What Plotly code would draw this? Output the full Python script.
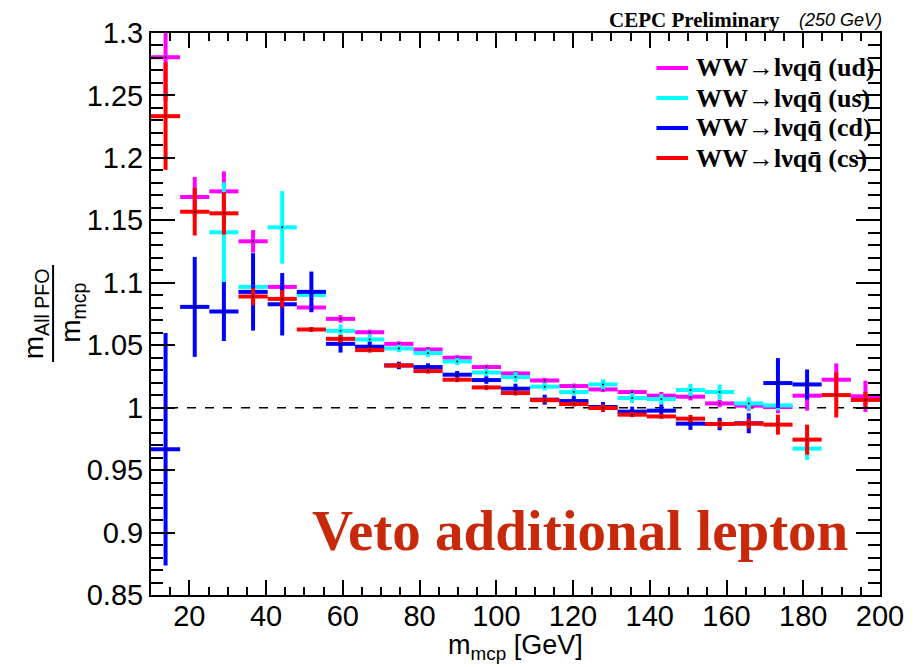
import plotly.graph_objects as go

# Bin layout: 25 bins of equal width between 10 and 200 GeV
bin_centers = [13.8, 21.4, 29.0, 36.6, 44.2, 51.8, 59.4, 67.0, 74.6, 82.2,
               89.8, 97.4, 105.0, 112.6, 120.2, 127.8, 135.4, 143.0, 150.6, 158.2,
               165.8, 173.4, 181.0, 188.6, 196.2]
bin_half_width = 3.8

# WW -> l nu q qbar (ud)
ud_ratio = [1.2806, 1.1687, 1.1732, 1.1332, 1.0967, 1.0802, 1.0711, 1.0604, 1.0511, 1.0466,
            1.0400, 1.0325, 1.0274, 1.0218, 1.0173, 1.0146, 1.0125, 1.0096, 1.0088, 1.0034,
            1.0016, 1.0005, 1.0096, 1.0224, 1.0091]
ud_err = [0.035, 0.016, 0.016, 0.009, 0.003, 0.003, 0.003, 0.002, 0.002, 0.002,
          0.002, 0.002, 0.002, 0.002, 0.002, 0.002, 0.002, 0.003, 0.003, 0.003,
          0.004, 0.005, 0.012, 0.013, 0.0125]

# WW -> l nu q qbar (us)
us_ratio = [None, None, 1.1404, 1.0967, 1.1444, 1.0903, 1.0615, 1.0546, 1.0474, 1.0437,
            1.0370, 1.0282, 1.0245, 1.0168, 1.0125, 1.0186, 1.0077, 1.0069, 1.0141, 1.0125,
            1.0034, 1.0018, 0.9672, None, None]
us_err = [0, 0, 0.040, 0.004, 0.029, 0.004, 0.005, 0.004, 0.003, 0.003,
          0.003, 0.003, 0.004, 0.003, 0.003, 0.004, 0.004, 0.004, 0.005, 0.006,
          0.005, 0.004, 0.009, 0, 0]

# WW -> l nu q qbar (cd)
cd_ratio = [0.9667, 1.0807, 1.0770, 1.0927, 1.0828, 1.0927, 1.0511, 1.0488, 1.0338, 1.0325,
            1.0264, 1.0221, 1.0152, 1.0064, 1.0053, 1.0005, 0.9968, 0.9976, 0.9872, 0.9869,
            0.9875, 1.0197, 1.0186, None, None]
cd_err = [0.093, 0.040, 0.0236, 0.031, 0.025, 0.0163, 0.007, 0.004, 0.003, 0.003,
          0.003, 0.003, 0.004, 0.004, 0.004, 0.004, 0.004, 0.005, 0.005, 0.005,
          0.008, 0.020, 0.012, 0, 0]

# WW -> l nu q qbar (cs)
cs_ratio = [1.2334, 1.1569, 1.1556, 1.0890, 1.0871, 1.0626, 1.0551, 1.0461, 1.0338, 1.0293,
            1.0224, 1.0162, 1.0117, 1.0060, 1.0029, 0.9997, 0.9944, 0.9930, 0.9912, 0.9869,
            0.9872, 0.9864, 0.9744, 1.0101, 1.0062]
cs_err = [0.043, 0.019, 0.017, 0.007, 0.007, 0.002, 0.003, 0.002, 0.002, 0.002,
          0.002, 0.002, 0.002, 0.002, 0.002, 0.003, 0.002, 0.002, 0.003, 0.003,
          0.004, 0.008, 0.012, 0.018, 0.0065]

series_labels = ["WW→lνqq̄ (ud)", "WW→lνqq̄ (us)", "WW→lνqq̄ (cd)", "WW→lνqq̄ (cs)"]
series_colors = ["#ff00ff", "#00ffff", "#0000ff", "#ff0000"]

x_tick_vals = [20, 40, 60, 80, 100, 120, 140, 160, 180, 200]
y_tick_vals = [0.85, 0.9, 0.95, 1.0, 1.05, 1.1, 1.15, 1.2, 1.25, 1.3]
y_tick_text = ["0.85", "0.9", "0.95", "1", "1.05", "1.1", "1.15", "1.2", "1.25", "1.3"]

W, H = 916, 667
L, R, T, B = 151, 888, 33, 595


def px_x(p):
    return (p - L) / (R - L)


def px_y(p):
    return (B - p) / (B - T)


fig = go.Figure()

for ratios, errs, color, name in zip([ud_ratio, us_ratio, cd_ratio, cs_ratio],
                                     [ud_err, us_err, cd_err, cs_err],
                                     series_colors, series_labels):
    fig.add_trace(go.Scatter(
        x=bin_centers, y=ratios, mode="markers", name=name, showlegend=False,
        marker=dict(size=2, color="black"),
        error_x=dict(type="constant", value=bin_half_width, thickness=4, width=0, color=color),
        error_y=dict(type="data", array=errs, thickness=4, width=0, color=color),
    ))

# reference line at unity
fig.add_shape(type="line", xref="x", yref="y", x0=10, x1=200, y0=1, y1=1,
              line=dict(color="black", width=1.5, dash="dash"), layer="below")

axis_common = dict(
    showline=True, linecolor="black", linewidth=2, mirror="allticks",
    ticks="inside", tickcolor="black", showgrid=False, zeroline=False,
    tickfont=dict(family="Liberation Sans, Arial, sans-serif", size=29, color="black"),
)

fig.update_xaxes(range=[10, 200], tickvals=x_tick_vals, ticklen=15, tickwidth=1.5,
                 ticklabelstandoff=-6,
                 minor=dict(dtick=5, tick0=0, ticklen=8, tickwidth=1.5, ticks="inside",
                            tickcolor="black", showgrid=False),
                 **axis_common)
fig.update_yaxes(range=[0.85, 1.3], tickvals=y_tick_vals, ticktext=y_tick_text,
                 ticklen=24, tickwidth=1.5,
                 minor=dict(dtick=0.01, tick0=0, ticklen=12, tickwidth=1.5, ticks="inside",
                            tickcolor="black", showgrid=False),
                 **axis_common)

annotations = []
shapes = []

# legend block
legend_rows = [68, 98, 128, 158]
for label, color, py in zip(series_labels, series_colors, legend_rows):
    shapes.append(dict(type="line", xref="paper", yref="paper",
                       x0=px_x(662), x1=px_x(694), y0=px_y(py), y1=px_y(py),
                       line=dict(color=color, width=4)))
    annotations.append(dict(xref="paper", yref="paper", x=px_x(700), y=px_y(py),
                            xanchor="left", yanchor="middle", showarrow=False,
                            text="<b>" + label + "</b>",
                            font=dict(family="Liberation Serif, Times New Roman, serif",
                                      size=26, color="black")))

# header
annotations.append(dict(xref="paper", yref="paper", x=px_x(612), y=px_y(20),
                        xanchor="left", yanchor="middle", showarrow=False,
                        text="<b>CEPC Preliminary</b>",
                        font=dict(family="Liberation Serif, Times New Roman, serif",
                                  size=21, color="black")))
annotations.append(dict(xref="paper", yref="paper", x=px_x(804), y=px_y(20),
                        xanchor="left", yanchor="middle", showarrow=False,
                        text="<i>(250 GeV)</i>",
                        font=dict(family="Liberation Sans, Arial, sans-serif",
                                  size=18, color="black")))

# selection note
annotations.append(dict(xref="paper", yref="paper", x=px_x(585), y=px_y(530),
                        xanchor="center", yanchor="middle", showarrow=False,
                        text="<b>Veto additional lepton</b>",
                        font=dict(family="Liberation Serif, Times New Roman, serif",
                                  size=57, color="#c8290a")))

# x axis title
annotations.append(dict(xref="paper", yref="paper", x=px_x(519), y=px_y(647),
                        xanchor="center", yanchor="middle", showarrow=False,
                        text="m<sub>mcp</sub> [GeV]",
                        font=dict(family="Liberation Sans, Arial, sans-serif",
                                  size=27, color="black")))

# y axis title drawn as a fraction
annotations.append(dict(xref="paper", yref="paper", x=px_x(34), y=px_y(314),
                        xanchor="center", yanchor="middle", showarrow=False, textangle=-90,
                        text="m<sub>All PFO</sub>",
                        font=dict(family="Liberation Sans, Arial, sans-serif",
                                  size=28, color="black")))
annotations.append(dict(xref="paper", yref="paper", x=px_x(71), y=px_y(313),
                        xanchor="center", yanchor="middle", showarrow=False, textangle=-90,
                        text="m<sub>mcp</sub>",
                        font=dict(family="Liberation Sans, Arial, sans-serif",
                                  size=28, color="black")))
shapes.append(dict(type="line", xref="paper", yref="paper",
                   x0=px_x(52), x1=px_x(52), y0=px_y(265), y1=px_y(362),
                   line=dict(color="black", width=2)))

fig.update_layout(
    width=W, height=H,
    margin=dict(l=L, r=W - R, t=T, b=H - B, pad=0),
    paper_bgcolor="white", plot_bgcolor="white",
    showlegend=False,
    annotations=annotations,
)
for s in shapes:
    fig.add_shape(**s)

fig.write_html("out.html")
